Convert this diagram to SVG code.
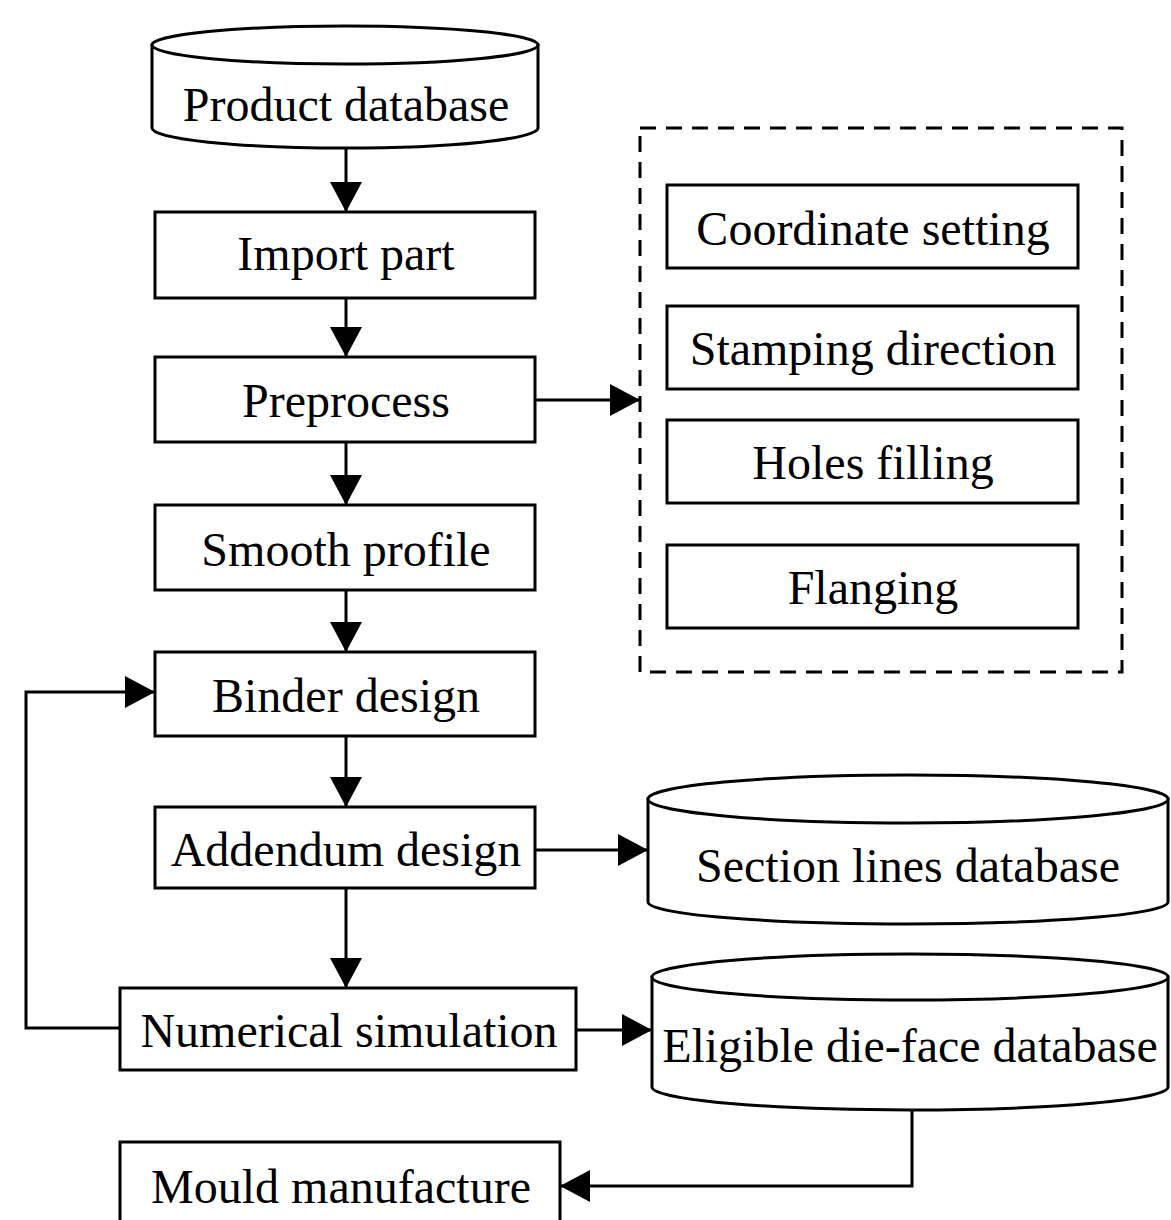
<svg xmlns="http://www.w3.org/2000/svg" width="1171" height="1220" viewBox="0 0 1171 1220">
<style>
.box{fill:#fff;stroke:#000;stroke-width:3}
.lbl{font-family:"Liberation Serif","Times New Roman",serif;font-size:48px;fill:#000;text-anchor:middle}
.con{fill:none;stroke:#000;stroke-width:3}
.dash{fill:none;stroke:#000;stroke-width:3;stroke-dasharray:16 10}
</style>
<defs>
<marker id="ah" markerUnits="userSpaceOnUse" markerWidth="32" markerHeight="32" refX="30" refY="16" orient="auto">
<path d="M0,0 L30,16 L0,32 z" fill="#000"/>
</marker>
</defs>
<rect width="1171" height="1220" fill="#fff"/>
<g id="connectors">
<line class="con" x1="346" y1="148" x2="346" y2="212" marker-end="url(#ah)"/>
<line class="con" x1="346" y1="298" x2="346" y2="357" marker-end="url(#ah)"/>
<line class="con" x1="346" y1="442" x2="346" y2="505" marker-end="url(#ah)"/>
<line class="con" x1="346" y1="590" x2="346" y2="652" marker-end="url(#ah)"/>
<line class="con" x1="346" y1="736" x2="346" y2="807" marker-end="url(#ah)"/>
<line class="con" x1="346" y1="888" x2="346" y2="988" marker-end="url(#ah)"/>
<line class="con" x1="535" y1="400" x2="640" y2="400" marker-end="url(#ah)"/>
<line class="con" x1="535" y1="850" x2="648" y2="850" marker-end="url(#ah)"/>
<line class="con" x1="576" y1="1030" x2="652" y2="1030" marker-end="url(#ah)"/>
<path class="con" d="M912,1110 V1186 H560" marker-end="url(#ah)"/>
<path class="con" d="M120,1028 H26 V692 H155" marker-end="url(#ah)"/>
</g>
<g id="product-db">
<path class="box" d="M152,45 V128 A193,20 0 0 0 538,128 V45 Z"/>
<ellipse class="box" cx="345" cy="45" rx="193" ry="19"/>
<text class="lbl" x="346" y="121">Product database</text>
</g>
<g id="import-part">
<rect class="box" x="155" y="212" width="380" height="86"/>
<text class="lbl" x="346" y="270">Import part</text>
</g>
<g id="preprocess">
<rect class="box" x="155" y="357" width="380" height="85"/>
<text class="lbl" x="346" y="417">Preprocess</text>
</g>
<g id="smooth-profile">
<rect class="box" x="155" y="505" width="380" height="85"/>
<text class="lbl" x="346" y="566">Smooth profile</text>
</g>
<g id="binder-design">
<rect class="box" x="155" y="652" width="380" height="84"/>
<text class="lbl" x="346" y="712">Binder design</text>
</g>
<g id="addendum-design">
<rect class="box" x="155" y="807" width="380" height="81"/>
<text class="lbl" x="346" y="866">Addendum design</text>
</g>
<g id="numerical-simulation">
<rect class="box" x="120" y="988" width="456" height="82"/>
<text class="lbl" x="349" y="1047">Numerical simulation</text>
</g>
<g id="mould-manufacture">
<rect class="box" x="120" y="1142" width="440" height="100"/>
<text class="lbl" x="341" y="1203">Mould manufacture</text>
</g>
<g id="preprocess-group">
<rect class="dash" x="640" y="128" width="482" height="544"/>
</g>
<g id="coordinate-setting">
<rect class="box" x="667" y="185" width="411" height="83"/>
<text class="lbl" x="873" y="245">Coordinate setting</text>
</g>
<g id="stamping-direction">
<rect class="box" x="667" y="306" width="411" height="83"/>
<text class="lbl" x="873" y="365">Stamping direction</text>
</g>
<g id="holes-filling">
<rect class="box" x="667" y="420" width="411" height="83"/>
<text class="lbl" x="873" y="479">Holes filling</text>
</g>
<g id="flanging">
<rect class="box" x="667" y="545" width="411" height="83"/>
<text class="lbl" x="873" y="604">Flanging</text>
</g>
<g id="section-lines-db">
<path class="box" d="M648,799 V902 A260,22 0 0 0 1168,902 V799 Z"/>
<ellipse class="box" cx="908" cy="799" rx="260" ry="24"/>
<text class="lbl" x="908" y="882">Section lines database</text>
</g>
<g id="eligible-die-face-db">
<path class="box" d="M652,977 V1087 A258,23 0 0 0 1168,1087 V977 Z"/>
<ellipse class="box" cx="910" cy="977" rx="258" ry="23"/>
<text class="lbl" x="910" y="1062">Eligible die-face database</text>
</g>
</svg>
